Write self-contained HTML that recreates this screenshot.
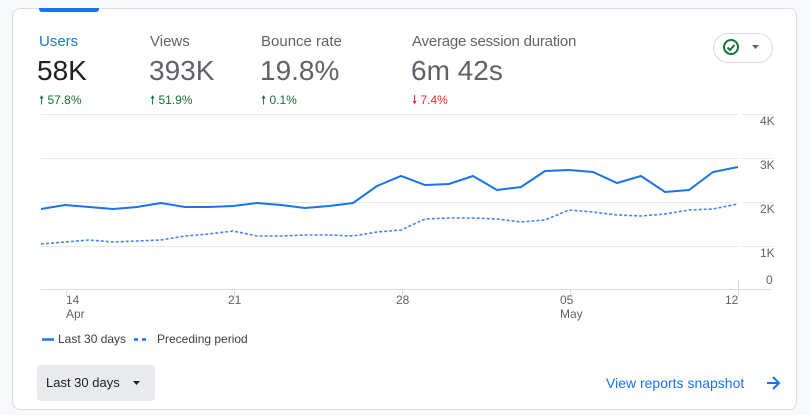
<!DOCTYPE html>
<html><head><meta charset="utf-8"><style>
body{margin:0;width:810px;height:415px;background:#f8f9fa;font-family:"Liberation Sans",sans-serif;position:relative;overflow:hidden}
.card{position:absolute;left:12px;top:8px;width:783px;height:400px;background:#fff;border:1px solid #dadce0;border-radius:8px}
.t{position:absolute;white-space:nowrap}
</style></head><body>
<div class="card"></div>
<div style="position:absolute;left:39px;top:8px;width:60px;height:4px;background:#1a73e8;border-radius:0 0 3px 3px"></div>
<div class="t" style="left:39px;top:33px;font-size:15px;color:#1a73e8">Users</div>
<div class="t" style="left:150px;top:33px;font-size:15px;color:#5f6368">Views</div>
<div class="t" style="left:261px;top:33px;font-size:15px;color:#5f6368">Bounce rate</div>
<div class="t" style="left:412px;top:33px;font-size:15px;color:#5f6368;letter-spacing:-0.2px">Average session duration</div>
<div class="t" style="left:37px;top:55px;font-size:28px;color:#202124">58K</div>
<div class="t" style="left:149px;top:55px;font-size:28px;color:#5f6368">393K</div>
<div class="t" style="left:260px;top:55px;font-size:28px;color:#5f6368">19.8%</div>
<div class="t" style="left:411px;top:55px;font-size:28px;color:#5f6368">6m 42s</div>
<div class="t" style="left:39px;top:91px;font-size:12px;color:#137333">🠕 57.8%</div>
<div class="t" style="left:150px;top:91px;font-size:12px;color:#137333">🠕 51.9%</div>
<div class="t" style="left:261px;top:91px;font-size:12px;color:#137333">🠕 0.1%</div>
<div class="t" style="left:412px;top:91px;font-size:12px;color:#d93025">🠗 7.4%</div>
<div style="position:absolute;left:713px;top:33px;width:58px;height:28px;border:1px solid #dadce0;border-radius:15px"></div>
<div style="position:absolute;left:37px;top:365px;width:118px;height:36px;background:#e8eaed;border-radius:4px"></div>
<svg style="position:absolute;left:0;top:0" width="810" height="415">
<circle cx="731" cy="47" r="7" fill="none" stroke="#137333" stroke-width="2"/>
<path d="M727.5 47.5l2.5 2.5 4.5-5" fill="none" stroke="#137333" stroke-width="2"/>
<path d="M752 45h7l-3.5 4z" fill="#5f6368"/>
<g stroke="#e8eaed" stroke-width="1">
<path d="M41 114.5H738M742 114.5H772M41 158.5H738M742 158.5H772M41 202.5H738M742 202.5H772M41 246.5H738M742 246.5H772"/>
</g>
<path d="M41 289.5H772" stroke="#dadce0"/>
<g stroke="#dadce0"><path d="M66.5 290v6M234.5 290v6M402.5 290v6M570.5 290v6M738.5 280v16"/></g>
<polyline fill="none" stroke="#4285f4" stroke-width="1.6" stroke-dasharray="3,2" points="41,244 65,242 89,240 113,242 137,241 161,240 185,236 209,234 233,231 257,236 281,236 305,235 329,235 353,236 377,232 401,230 425,219 449,218 473,218 497,219 521,222 545,220 569,210 593,212 617,215 641,216 665,214 689,210 713,209 738,204"/>
<polyline fill="none" stroke="#1a73e8" stroke-width="2" points="41,209 65,205 89,207 113,209 137,207 161,203 185,207 209,207 233,206 257,203 281,205 305,208 329,206 353,203 377,186 401,176 425,185 449,184 473,176 497,190 521,187 545,171 569,170 593,172 617,183 641,176 665,192 689,190 713,172 738,167"/>
<path d="M42 339.5h12" stroke="#1a73e8" stroke-width="2.5"/>
<path d="M134 339.5h4M142 339.5h4" stroke="#1a73e8" stroke-width="2.5"/>
<path d="M133 381h7l-3.5 4z" fill="#202124"/>
<path d="M767 383h11M773 377l6 6-6 6" fill="none" stroke="#1a73e8" stroke-width="2"/>
</svg>
<div class="t" style="left:760px;top:114px;font-size:12px;color:#5f6368">4K</div>
<div class="t" style="left:760px;top:158px;font-size:12px;color:#5f6368">3K</div>
<div class="t" style="left:760px;top:202px;font-size:12px;color:#5f6368">2K</div>
<div class="t" style="left:760px;top:246px;font-size:12px;color:#5f6368">1K</div>
<div class="t" style="left:766px;top:273px;font-size:12px;color:#5f6368">0</div>
<div class="t" style="left:66px;top:293px;font-size:12px;color:#5f6368;line-height:14px">14<br>Apr</div>
<div class="t" style="left:228px;top:293px;font-size:12px;color:#5f6368">21</div>
<div class="t" style="left:396px;top:293px;font-size:12px;color:#5f6368">28</div>
<div class="t" style="left:560px;top:293px;font-size:12px;color:#5f6368;line-height:14px">05<br>May</div>
<div class="t" style="left:725px;top:293px;font-size:12px;color:#5f6368">12</div>
<div class="t" style="left:58px;top:332px;font-size:12px;color:#3c4043">Last 30 days</div>
<div class="t" style="left:157px;top:332px;font-size:12px;color:#3c4043">Preceding period</div>
<div class="t" style="left:46px;top:375px;font-size:13px;color:#202124">Last 30 days</div>
<div class="t" style="left:606px;top:375px;font-size:14px;color:#1a73e8">View reports snapshot</div>
</body></html>
